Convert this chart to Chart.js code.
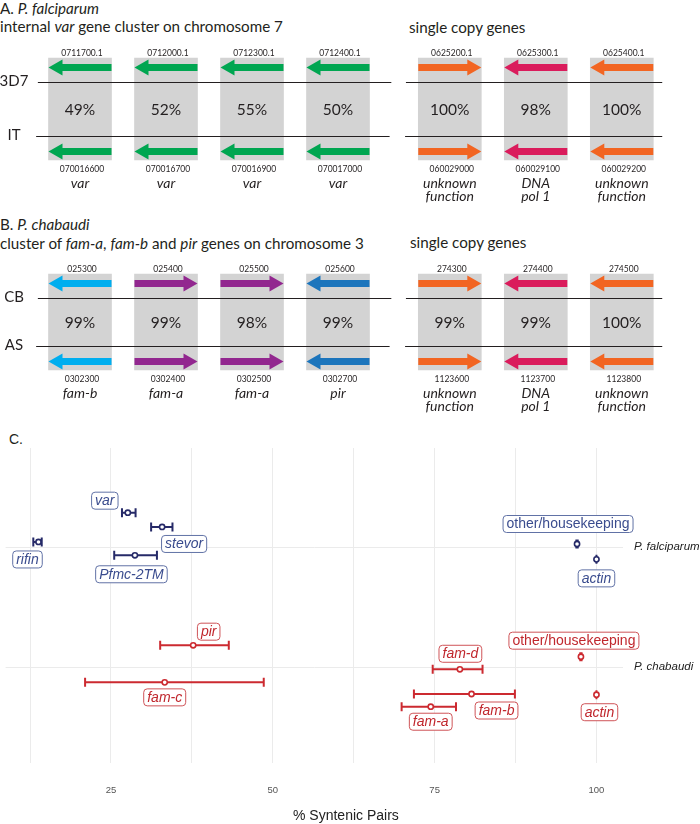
<!DOCTYPE html>
<html>
<head>
<meta charset="utf-8">
<script src="https://cdn.jsdelivr.net/npm/chart.js@4.4.1/dist/chart.umd.min.js"></script>
<style>
  body { margin: 0; background: #fff; }
  #wrap { position: relative; width: 700px; height: 824px; overflow: hidden; font-family: Lato, 'Open Sans', sans-serif; color: #231f20; }
  .t { position: absolute; white-space: nowrap; font-size: 15.2px; line-height: 1; }
  canvas { position: absolute; left: 0; }
  .xt { position: absolute; font-family: 'Liberation Sans', Arial, sans-serif; font-size: 14px; color: #222; white-space: nowrap; line-height: 1; }
</style>
</head>
<body>
<div id="wrap">
  <div class="t" style="left:0;top:1px">A. <i>P. falciparum</i></div>
  <div class="t" style="left:0;top:19px">internal <i>var</i> gene cluster on chromosome 7</div>
  <div class="t" style="left:409px;top:20px">single copy genes</div>
  <canvas id="geneA" width="700" height="172" style="top:40px"></canvas>

  <div class="t" style="left:0;top:217px">B. <i>P. chabaudi</i></div>
  <div class="t" style="left:0;top:236px">cluster of <i>fam-a</i>, <i>fam-b</i> and <i>pir</i> genes on chromosome 3</div>
  <div class="t" style="left:410px;top:235px">single copy genes</div>
  <canvas id="geneB" width="700" height="165" style="top:255px"></canvas>

  <div class="t" style="left:9px;top:432px;font-family:'Liberation Sans',Arial,sans-serif;font-size:14px">C.</div>
  <canvas id="synteny" width="700" height="394" style="top:430px"></canvas>
  <div class="xt" style="left:293px;top:808px">% Syntenic Pairs</div>
</div>

<script>
// ---- Panel A: P. falciparum ----
const pfStrains = ['3D7', 'IT'];
const pfTopIds = ['0711700.1', '0712000.1', '0712300.1', '0712400.1', '0625200.1', '0625300.1', '0625400.1'];
const pfBottomIds = ['070016600', '070016700', '070016900', '070017000', '060029000', '060029100', '060029200'];
const pfIdentity = [49, 52, 55, 50, 100, 98, 100];
const pfGeneNames = ['var', 'var', 'var', 'var', 'unknown function', 'DNA pol 1', 'unknown function'];
const pfTopDir = [-1, -1, -1, -1, 1, -1, -1];
const pfBottomDir = [-1, -1, -1, -1, 1, -1, -1];
const pfGeneColors = ['#00a651', '#00a651', '#00a651', '#00a651', '#f26522', '#da1c5c', '#f26522'];

// ---- Panel B: P. chabaudi ----
const pcStrains = ['CB', 'AS'];
const pcTopIds = ['025300', '025400', '025500', '025600', '274300', '274400', '274500'];
const pcBottomIds = ['0302300', '0302400', '0302500', '0302700', '1123600', '1123700', '1123800'];
const pcIdentity = [99, 99, 98, 99, 99, 99, 100];
const pcGeneNames = ['fam-b', 'fam-a', 'fam-a', 'pir', 'unknown function', 'DNA pol 1', 'unknown function'];
const pcTopDir = [-1, 1, 1, -1, 1, -1, -1];
const pcBottomDir = [-1, 1, 1, -1, 1, -1, -1];
const pcGeneColors = ['#00aeef', '#92278f', '#92278f', '#1c75bc', '#f26522', '#da1c5c', '#f26522'];

// ---- Panel C: % syntenic pairs ----
const species = ['P. falciparum', 'P. chabaudi'];
const xTickValues = [12.5, 25, 37.5, 50, 62.5, 75, 87.5, 100];

const pfFamilies = ['rifin', 'var', 'stevor', 'Pfmc-2TM', 'other/housekeeping', 'actin'];
const pfMean = [13.8, 27.6, 32.9, 28.7, 97.0, 100];
const pfLow = [13.0, 26.7, 31.2, 25.5, 96.9, 100];
const pfHigh = [14.3, 28.8, 34.5, 32.1, 97.1, 100];
const pfRow = [0.958, 0.714, 0.833, 1.069, 0.975, 1.103];

const pcFamilies = ['other/housekeeping', 'fam-d', 'fam-b', 'fam-a', 'actin', 'pir', 'fam-c'];
const pcMean = [97.6, 78.9, 80.7, 74.4, 100, 37.7, 33.3];
const pcLow = [97.5, 74.7, 71.8, 69.9, 100, 32.6, 21.0];
const pcHigh = [97.7, 82.4, 87.4, 78.3, 100, 43.2, 48.6];
const pcRow = [1.914, 2.019, 2.225, 2.331, 2.231, 1.819, 2.128];

// label nudges (px) for the repelled boxes
const pfLabelShift = [[-11, 17.5], [-23, -12], [22, 17], [-3.5, 19], [-9, -20], [0, 19]];
const pcLabelShift = [[-7, -16], [0.5, -15.5], [25, 16.5], [0, 15], [3, 17.5], [15.5, -13.6], [0, 15]];

const INK = '#231f20';
const DIAG_FONT = 'Lato, "Open Sans", sans-serif';

function drawArrow(ctx, x0, x1, y, dir, color) {
  const hl = 14, hh = 8, sh = 3.5;
  const tip = dir > 0 ? x1 : x0;
  const base = dir > 0 ? x1 - hl : x0 + hl;
  const tail = dir > 0 ? x0 : x1;
  ctx.fillStyle = color;
  ctx.beginPath();
  ctx.moveTo(tail, y - sh);
  ctx.lineTo(base, y - sh);
  ctx.lineTo(base, y - hh);
  ctx.lineTo(tip, y);
  ctx.lineTo(base, y + hh);
  ctx.lineTo(base, y + sh);
  ctx.lineTo(tail, y + sh);
  ctx.closePath();
  ctx.fill();
}

function makeGeneChart(id, g) {
  const clusterSize = 4;
  const xs = g.topIds.map((_, i) => i < clusterSize ? i : i + 0.3);
  const lineBot = g.lineTop + g.gap;
  const boxTop = g.lineTop - 24, boxBot = lineBot + 24;
  const canvas = document.getElementById(id);

  const diagram = {
    id: 'diagram',
    afterDatasetsDraw(chart) {
      const ctx = chart.ctx;
      const xS = chart.scales.x, yS = chart.scales.y;
      const px = v => xS.getPixelForValue(v);
      const py = v => yS.getPixelForValue(v);
      ctx.save();
      ctx.textAlign = 'center';
      ctx.textBaseline = 'middle';
      // strain lines
      [g.lineTop, lineBot].forEach((ly, k) => {
        const y = Math.round(py(ly)) + 0.5;
        ctx.strokeStyle = INK;
        ctx.lineWidth = 1.2;
        ctx.beginPath();
        ctx.moveTo(px(xs[0] - 0.49 - k * 0.02), y);
        ctx.lineTo(px(xs[clusterSize - 1] + 0.62 - k * 0.02), y);
        ctx.moveTo(px(xs[clusterSize] - 0.51 - k * 0.01), y);
        ctx.lineTo(px(xs[xs.length - 1] + 0.47), y);
        ctx.stroke();
        ctx.fillStyle = INK;
        ctx.font = '15px ' + DIAG_FONT;
        ctx.fillText(g.strains[k], 14, y - 1);
      });
      const half = 31.5;
      xs.forEach((xv, i) => {
        const cx = px(xv);
        drawArrow(ctx, cx - half, cx + half, py(g.lineTop - 14.5), g.topDir[i], g.colors[i]);
        drawArrow(ctx, cx - half, cx + half, py(lineBot + 15.5), g.bottomDir[i], g.colors[i]);
        ctx.fillStyle = INK;
        ctx.font = '15.5px ' + DIAG_FONT;
        ctx.fillText(g.identity[i] + '%', cx, py((g.lineTop + lineBot) / 2 + 1));
        ctx.font = '8.5px ' + DIAG_FONT;
        ctx.fillText(g.topIds[i], cx + 2, py(boxTop - 5));
        ctx.fillText(g.bottomIds[i], cx + 2, py(boxBot + 9));
        ctx.font = 'italic 14px ' + DIAG_FONT;
        const words = g.names[i].split(' ');
        const lines = words.length > 1 ? [words[0], words.slice(1).join(' ')] : words;
        lines.forEach((ln, j) => ctx.fillText(ln, cx, py(boxBot + 23 + j * 13)));
      });
      ctx.restore();
    }
  };

  return new Chart(canvas, {
    type: 'bar',
    data: {
      datasets: [{
        data: xs.map(xv => ({ x: xv, y: [boxTop, boxBot] })),
        backgroundColor: '#d3d3d3',
        borderWidth: 0,
        barThickness: 63
      }]
    },
    options: {
      responsive: false,
      animation: false,
      layout: { padding: 0 },
      plugins: { legend: { display: false }, tooltip: { enabled: false } },
      scales: {
        x: { type: 'linear', display: false, offset: false, min: -80 / 86, max: 620 / 86 },
        y: { type: 'linear', display: false, reverse: true, min: 0, max: canvas.height }
      }
    },
    plugins: [diagram]
  });
}

makeGeneChart('geneA', {
  strains: pfStrains, topIds: pfTopIds, bottomIds: pfBottomIds, identity: pfIdentity,
  names: pfGeneNames, topDir: pfTopDir, bottomDir: pfBottomDir, colors: pfGeneColors,
  lineTop: 42, gap: 54
});
makeGeneChart('geneB', {
  strains: pcStrains, topIds: pcTopIds, bottomIds: pcBottomIds, identity: pcIdentity,
  names: pcGeneNames, topDir: pcTopDir, bottomDir: pcBottomDir, colors: pcGeneColors,
  lineTop: 43, gap: 48
});

// ---- Panel C chart ----
const PF_INK = '#262a68', PF_LABEL = '#3a4c8e', PF_EDGE = '#6172a6';
const PC_INK = '#cc2a30', PC_LABEL = '#c0272d', PC_EDGE = '#cf5458';

function rows(names, mean, low, high, row, shift) {
  return mean.map((m, i) => ({ x: m, y: row[i], lo: low[i], hi: high[i], name: names[i], dx: shift[i][0], dy: shift[i][1] }));
}

const errorBars = {
  id: 'errorBars',
  beforeDatasetsDraw(chart) {
    const ctx = chart.ctx, xS = chart.scales.x;
    ctx.save();
    chart.data.datasets.forEach((ds, di) => {
      const meta = chart.getDatasetMeta(di);
      ctx.strokeStyle = ds.borderColor;
      ctx.lineWidth = 2;
      meta.data.forEach((pt, i) => {
        const d = ds.data[i];
        const x0 = xS.getPixelForValue(d.lo), x1 = xS.getPixelForValue(d.hi), y = pt.y;
        ctx.beginPath();
        ctx.moveTo(x0, y); ctx.lineTo(x1, y);
        ctx.moveTo(x0, y - 4.5); ctx.lineTo(x0, y + 4.5);
        ctx.moveTo(x1, y - 4.5); ctx.lineTo(x1, y + 4.5);
        ctx.stroke();
      });
    });
    ctx.restore();
  }
};

const repelLabels = {
  id: 'repelLabels',
  afterDatasetsDraw(chart) {
    const ctx = chart.ctx;
    ctx.save();
    chart.data.datasets.forEach((ds, di) => {
      const meta = chart.getDatasetMeta(di);
      meta.data.forEach((pt, i) => {
        const d = ds.data[i];
        const italic = d.name !== 'other/housekeeping';
        ctx.font = (italic ? 'italic ' : '') + '14px "Liberation Sans", Arial, sans-serif';
        const w = ctx.measureText(d.name).width + 7, h = 17;
        const cx = pt.x + d.dx, cy = pt.y + d.dy;
        ctx.beginPath();
        ctx.roundRect(cx - w / 2, cy - h / 2, w, h, 3.5);
        ctx.fillStyle = '#fff';
        ctx.fill();
        ctx.lineWidth = 1;
        ctx.strokeStyle = ds.labelEdge;
        ctx.stroke();
        ctx.fillStyle = ds.labelColor;
        ctx.textAlign = 'center';
        ctx.textBaseline = 'middle';
        ctx.fillText(d.name, cx, cy + 0.5);
      });
    });
    ctx.restore();
  }
};

new Chart(document.getElementById('synteny'), {
  type: 'scatter',
  data: {
    datasets: [
      {
        label: species[0],
        data: rows(pfFamilies, pfMean, pfLow, pfHigh, pfRow, pfLabelShift),
        borderColor: PF_INK, labelColor: PF_LABEL, labelEdge: PF_EDGE,
        pointRadius: 2.6, pointBorderWidth: 1.6, pointBackgroundColor: '#fff', pointBorderColor: PF_INK
      },
      {
        label: species[1],
        data: rows(pcFamilies, pcMean, pcLow, pcHigh, pcRow, pcLabelShift),
        borderColor: PC_INK, labelColor: PC_LABEL, labelEdge: PC_EDGE,
        pointRadius: 2.6, pointBorderWidth: 1.6, pointBackgroundColor: '#fff', pointBorderColor: PC_INK
      }
    ]
  },
  options: {
    responsive: false,
    animation: false,
    layout: { padding: { left: 2, top: 18, right: 0, bottom: 0 } },
    plugins: { legend: { display: false }, tooltip: { enabled: false } },
    scales: {
      x: {
        type: 'linear', min: 8.72, max: 104.1,
        border: { display: false },
        grid: { color: '#ebebeb', lineWidth: 1, drawTicks: false },
        afterBuildTicks: s => { s.ticks = xTickValues.map(v => ({ value: v })); },
        afterFit: s => { s.height = 61; },
        ticks: {
          padding: 22, color: '#555', autoSkip: false, maxRotation: 0,
          font: { family: '"Liberation Sans", Arial, sans-serif', size: 9.5 },
          callback: v => (v % 25 === 0 ? String(v) : '')
        }
      },
      y: {
        type: 'linear', position: 'right', reverse: true, min: 0.175, max: 2.8,
        border: { display: false },
        grid: { color: '#ebebeb', lineWidth: 1, drawTicks: false },
        afterBuildTicks: s => { s.ticks = [{ value: 1 }, { value: 2 }]; },
        afterFit: s => { s.width = 77; },
        ticks: {
          padding: 11, color: '#222',
          font: { family: '"Liberation Sans", Arial, sans-serif', size: 11.5, style: 'italic' },
          callback: v => species[v - 1]
        }
      }
    }
  },
  plugins: [errorBars, repelLabels]
});
</script>
</body>
</html>
